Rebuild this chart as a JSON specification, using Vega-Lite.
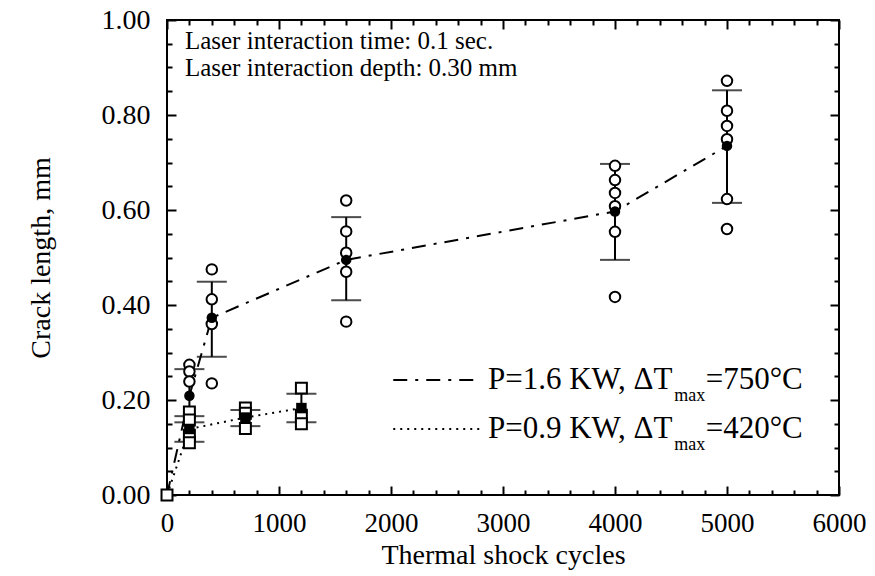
{
  "$schema": "https://vega.github.io/schema/vega-lite/v6.json",
  "width": 672,
  "height": 475,
  "autosize": "none",
  "padding": {"left": 167, "top": 20, "right": 36, "bottom": 81},
  "background": "white",
  "config": {
    "view": {"stroke": "black", "strokeWidth": 2},
    "font": "Liberation Serif",
    "text": {"font": "Liberation Serif"},
    "axis": {"domain": false, "grid": false, "tickColor": "black", "tickWidth": 2, "labelColor": "black", "titleColor": "black", "labelFont": "Liberation Serif", "titleFont": "Liberation Serif", "titleFontWeight": "normal", "labelFlush": false, "labelOverlap": false}
  },
  "datasets": {
    "ind": [
      {"s": "P=1.6", "cycles": 200, "len": 0.274}, {"s": "P=1.6", "cycles": 200, "len": 0.26}, {"s": "P=1.6", "cycles": 200, "len": 0.239},
      {"s": "P=1.6", "cycles": 400, "len": 0.475}, {"s": "P=1.6", "cycles": 400, "len": 0.412}, {"s": "P=1.6", "cycles": 400, "len": 0.36}, {"s": "P=1.6", "cycles": 400, "len": 0.235},
      {"s": "P=1.6", "cycles": 1600, "len": 0.62}, {"s": "P=1.6", "cycles": 1600, "len": 0.555}, {"s": "P=1.6", "cycles": 1600, "len": 0.51}, {"s": "P=1.6", "cycles": 1600, "len": 0.47}, {"s": "P=1.6", "cycles": 1600, "len": 0.365},
      {"s": "P=1.6", "cycles": 4000, "len": 0.693}, {"s": "P=1.6", "cycles": 4000, "len": 0.663}, {"s": "P=1.6", "cycles": 4000, "len": 0.636}, {"s": "P=1.6", "cycles": 4000, "len": 0.608}, {"s": "P=1.6", "cycles": 4000, "len": 0.554}, {"s": "P=1.6", "cycles": 4000, "len": 0.417},
      {"s": "P=1.6", "cycles": 5000, "len": 0.872}, {"s": "P=1.6", "cycles": 5000, "len": 0.809}, {"s": "P=1.6", "cycles": 5000, "len": 0.777}, {"s": "P=1.6", "cycles": 5000, "len": 0.749}, {"s": "P=1.6", "cycles": 5000, "len": 0.623}, {"s": "P=1.6", "cycles": 5000, "len": 0.56},
      {"s": "P=0.9", "cycles": 0, "len": 0.0},
      {"s": "P=0.9", "cycles": 200, "len": 0.175}, {"s": "P=0.9", "cycles": 200, "len": 0.158}, {"s": "P=0.9", "cycles": 200, "len": 0.126}, {"s": "P=0.9", "cycles": 200, "len": 0.11},
      {"s": "P=0.9", "cycles": 700, "len": 0.183}, {"s": "P=0.9", "cycles": 700, "len": 0.172}, {"s": "P=0.9", "cycles": 700, "len": 0.14},
      {"s": "P=0.9", "cycles": 1200, "len": 0.225}, {"s": "P=0.9", "cycles": 1200, "len": 0.168}, {"s": "P=0.9", "cycles": 1200, "len": 0.15}
    ],
    "mean": [
      {"s": "P=1.6", "cycles": 0, "len": 0.0},
      {"s": "P=1.6", "cycles": 200, "len": 0.209, "lo": 0.153, "hi": 0.265},
      {"s": "P=1.6", "cycles": 400, "len": 0.373, "lo": 0.291, "hi": 0.449},
      {"s": "P=1.6", "cycles": 1600, "len": 0.495, "lo": 0.41, "hi": 0.585},
      {"s": "P=1.6", "cycles": 4000, "len": 0.597, "lo": 0.495, "hi": 0.697},
      {"s": "P=1.6", "cycles": 5000, "len": 0.735, "lo": 0.615, "hi": 0.852},
      {"s": "P=0.9", "cycles": 0, "len": 0.0},
      {"s": "P=0.9", "cycles": 200, "len": 0.139, "lo": 0.112, "hi": 0.166},
      {"s": "P=0.9", "cycles": 700, "len": 0.163, "lo": 0.145, "hi": 0.179},
      {"s": "P=0.9", "cycles": 1200, "len": 0.183, "lo": 0.153, "hi": 0.213}
    ],
    "one": [{}]
  },
  "resolve": {"axis": {"x": "independent", "y": "independent"}},
  "layer": [
    {
      "data": {"name": "mean"},
      "transform": [{"filter": "datum.s === 'P=1.6'"}],
      "mark": {"type": "line", "color": "black", "strokeWidth": 2, "strokeDash": [14, 8, 3, 8]},
      "encoding": {
        "x": {"field": "cycles", "type": "quantitative", "scale": {"domain": [0, 6000], "nice": false, "zero": false},
          "axis": {"orient": "bottom", "values": [0, 1000, 2000, 3000, 4000, 5000, 6000], "format": "d", "tickSize": -9, "labelPadding": 24, "labelFontSize": 27, "title": "Thermal shock cycles", "titleFontSize": 28, "titlePadding": 5}},
        "y": {"field": "len", "type": "quantitative", "scale": {"domain": [0, 1], "nice": false, "zero": false},
          "axis": {"orient": "left", "values": [0, 0.2, 0.4, 0.6, 0.8, 1.0], "format": ".2f", "tickSize": -9, "labelPadding": 26, "labelFontSize": 28, "title": "Crack length, mm", "titleFontSize": 28, "titlePadding": 46}}
      }
    },
    {
      "data": {"name": "mean"},
      "transform": [{"filter": "datum.s === 'P=0.9'"}],
      "mark": {"type": "line", "color": "black", "strokeWidth": 2, "strokeDash": [2, 5]},
      "encoding": {
        "x": {"field": "cycles", "type": "quantitative", "scale": {"domain": [0, 6000], "nice": false, "zero": false},
          "axis": {"orient": "bottom", "values": [200, 400, 600, 800, 1200, 1400, 1600, 1800, 2200, 2400, 2600, 2800, 3200, 3400, 3600, 3800, 4200, 4400, 4600, 4800, 5200, 5400, 5600, 5800], "tickSize": -5, "labels": false, "title": null}},
        "y": {"field": "len", "type": "quantitative", "scale": {"domain": [0, 1], "nice": false, "zero": false},
          "axis": {"orient": "left", "values": [0.05, 0.1, 0.15, 0.25, 0.3, 0.35, 0.45, 0.5, 0.55, 0.65, 0.7, 0.75, 0.85, 0.9, 0.95], "tickSize": -5, "labels": false, "title": null}}
      }
    },
    {
      "data": {"name": "mean"},
      "transform": [{"filter": "isValid(datum.lo)"}],
      "mark": {"type": "rule", "color": "black", "strokeWidth": 2},
      "encoding": {
        "x": {"field": "cycles", "type": "quantitative", "scale": {"domain": [0, 6000], "nice": false, "zero": false},
          "axis": {"orient": "top", "values": [0, 1000, 2000, 3000, 4000, 5000, 6000], "tickSize": -9, "labels": false, "title": null}},
        "y": {"field": "lo", "type": "quantitative", "scale": {"domain": [0, 1], "nice": false, "zero": false},
          "axis": {"orient": "right", "values": [0, 0.2, 0.4, 0.6, 0.8, 1.0], "tickSize": -9, "labels": false, "title": null}},
        "y2": {"field": "hi"}
      }
    },
    {
      "data": {"name": "mean"},
      "transform": [{"filter": "isValid(datum.lo)"}, {"fold": ["lo", "hi"], "as": ["k", "v"]}],
      "mark": {"type": "tick", "orient": "horizontal", "color": "black", "thickness": 2, "size": 30},
      "encoding": {
        "x": {"field": "cycles", "type": "quantitative", "scale": {"domain": [0, 6000], "nice": false, "zero": false},
          "axis": {"orient": "top", "values": [200, 400, 600, 800, 1200, 1400, 1600, 1800, 2200, 2400, 2600, 2800, 3200, 3400, 3600, 3800, 4200, 4400, 4600, 4800, 5200, 5400, 5600, 5800], "tickSize": -5, "labels": false, "title": null}},
        "y": {"field": "v", "type": "quantitative", "scale": {"domain": [0, 1], "nice": false, "zero": false},
          "axis": {"orient": "right", "values": [0.05, 0.1, 0.15, 0.25, 0.3, 0.35, 0.45, 0.5, 0.55, 0.65, 0.7, 0.75, 0.85, 0.9, 0.95], "tickSize": -5, "labels": false, "title": null}}
      }
    },
    {
      "data": {"name": "ind"},
      "transform": [{"filter": "datum.s === 'P=1.6'"}],
      "mark": {"type": "point", "shape": "circle", "filled": true, "fill": "white", "stroke": "black", "strokeWidth": 2, "size": 110, "opacity": 1},
      "encoding": {
        "x": {"field": "cycles", "type": "quantitative", "scale": {"domain": [0, 6000], "nice": false, "zero": false}, "axis": null},
        "y": {"field": "len", "type": "quantitative", "scale": {"domain": [0, 1], "nice": false, "zero": false}, "axis": null}
      }
    },
    {
      "data": {"name": "ind"},
      "transform": [{"filter": "datum.s === 'P=0.9'"}],
      "mark": {"type": "point", "shape": "square", "filled": true, "fill": "white", "stroke": "black", "strokeWidth": 2, "size": 120, "opacity": 1},
      "encoding": {
        "x": {"field": "cycles", "type": "quantitative", "scale": {"domain": [0, 6000], "nice": false, "zero": false}, "axis": null},
        "y": {"field": "len", "type": "quantitative", "scale": {"domain": [0, 1], "nice": false, "zero": false}, "axis": null}
      }
    },
    {
      "data": {"name": "mean"},
      "transform": [{"filter": "datum.s === 'P=1.6' && datum.cycles > 0"}],
      "mark": {"type": "point", "shape": "circle", "filled": true, "color": "black", "size": 110, "opacity": 1},
      "encoding": {
        "x": {"field": "cycles", "type": "quantitative", "scale": {"domain": [0, 6000], "nice": false, "zero": false}, "axis": null},
        "y": {"field": "len", "type": "quantitative", "scale": {"domain": [0, 1], "nice": false, "zero": false}, "axis": null}
      }
    },
    {
      "data": {"name": "mean"},
      "transform": [{"filter": "datum.s === 'P=0.9' && datum.cycles > 0"}],
      "mark": {"type": "point", "shape": "square", "filled": true, "color": "black", "size": 110, "opacity": 1},
      "encoding": {
        "x": {"field": "cycles", "type": "quantitative", "scale": {"domain": [0, 6000], "nice": false, "zero": false}, "axis": null},
        "y": {"field": "len", "type": "quantitative", "scale": {"domain": [0, 1], "nice": false, "zero": false}, "axis": null}
      }
    },
    {
      "data": {"name": "one"},
      "mark": {"type": "text", "align": "left", "baseline": "middle", "fontSize": 25, "font": "Liberation Serif", "color": "black"},
      "encoding": {
        "x": {"datum": 160, "type": "quantitative", "axis": null},
        "y": {"datum": 0.956, "type": "quantitative", "axis": null},
        "text": {"value": "Laser interaction time: 0.1 sec."}
      }
    },
    {
      "data": {"name": "one"},
      "mark": {"type": "text", "align": "left", "baseline": "middle", "fontSize": 25, "font": "Liberation Serif", "color": "black"},
      "encoding": {
        "x": {"datum": 160, "type": "quantitative", "axis": null},
        "y": {"datum": 0.9, "type": "quantitative", "axis": null},
        "text": {"value": "Laser interaction depth: 0.30 mm"}
      }
    },
    {
      "data": {"name": "one"},
      "mark": {"type": "rule", "color": "black", "strokeWidth": 2, "strokeDash": [14, 8, 3, 8]},
      "encoding": {
        "x": {"datum": 2020, "type": "quantitative", "axis": null},
        "x2": {"datum": 2800},
        "y": {"datum": 0.242, "type": "quantitative", "axis": null}
      }
    },
    {
      "data": {"name": "one"},
      "mark": {"type": "rule", "color": "black", "strokeWidth": 2, "strokeDash": [2, 5]},
      "encoding": {
        "x": {"datum": 2020, "type": "quantitative", "axis": null},
        "x2": {"datum": 2800},
        "y": {"datum": 0.139, "type": "quantitative", "axis": null}
      }
    },
    {
      "data": {"name": "one"},
      "mark": {"type": "text", "align": "left", "baseline": "middle", "fontSize": 31, "font": "Liberation Serif", "color": "black"},
      "encoding": {
        "x": {"datum": 2866, "type": "quantitative", "axis": null},
        "y": {"datum": 0.242, "type": "quantitative", "axis": null},
        "text": {"value": "P=1.6 KW, ΔT"}
      }
    },
    {
      "data": {"name": "one"},
      "mark": {"type": "text", "align": "left", "baseline": "middle", "fontSize": 18, "font": "Liberation Serif", "color": "black"},
      "encoding": {
        "x": {"datum": 4530, "type": "quantitative", "axis": null},
        "y": {"datum": 0.208, "type": "quantitative", "axis": null},
        "text": {"value": "max"}
      }
    },
    {
      "data": {"name": "one"},
      "mark": {"type": "text", "align": "left", "baseline": "middle", "fontSize": 31, "font": "Liberation Serif", "color": "black"},
      "encoding": {
        "x": {"datum": 4810, "type": "quantitative", "axis": null},
        "y": {"datum": 0.242, "type": "quantitative", "axis": null},
        "text": {"value": "=750°C"}
      }
    },
    {
      "data": {"name": "one"},
      "mark": {"type": "text", "align": "left", "baseline": "middle", "fontSize": 31, "font": "Liberation Serif", "color": "black"},
      "encoding": {
        "x": {"datum": 2866, "type": "quantitative", "axis": null},
        "y": {"datum": 0.139, "type": "quantitative", "axis": null},
        "text": {"value": "P=0.9 KW, ΔT"}
      }
    },
    {
      "data": {"name": "one"},
      "mark": {"type": "text", "align": "left", "baseline": "middle", "fontSize": 18, "font": "Liberation Serif", "color": "black"},
      "encoding": {
        "x": {"datum": 4530, "type": "quantitative", "axis": null},
        "y": {"datum": 0.105, "type": "quantitative", "axis": null},
        "text": {"value": "max"}
      }
    },
    {
      "data": {"name": "one"},
      "mark": {"type": "text", "align": "left", "baseline": "middle", "fontSize": 31, "font": "Liberation Serif", "color": "black"},
      "encoding": {
        "x": {"datum": 4810, "type": "quantitative", "axis": null},
        "y": {"datum": 0.139, "type": "quantitative", "axis": null},
        "text": {"value": "=420°C"}
      }
    }
  ]
}
